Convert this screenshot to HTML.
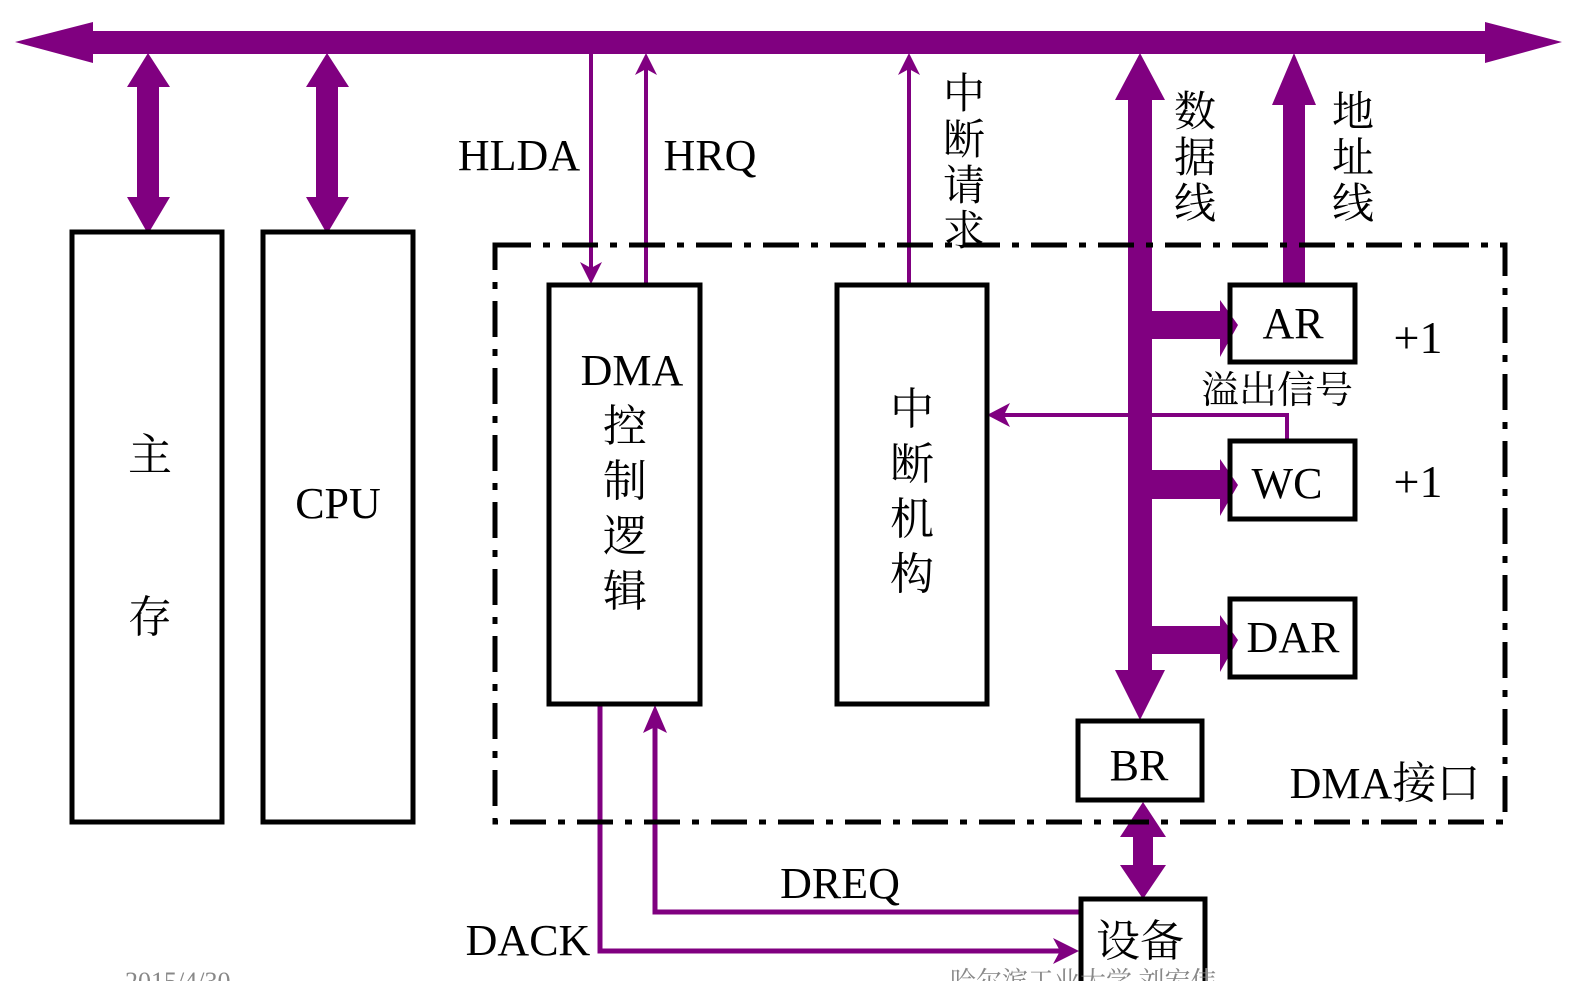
<!DOCTYPE html>
<html><head><meta charset="utf-8"><style>
html,body{margin:0;padding:0;background:#fff;}
svg{display:block;}
text{font-family:"Liberation Serif","Noto Serif CJK SC",serif;fill:#000;}
</style></head><body>
<svg width="1579" height="981" viewBox="0 0 1579 981" xmlns="http://www.w3.org/2000/svg">
<g fill="#800080">
<polygon points="15,42 93,22 93,31 1485,31 1485,22 1562,42 1485,63 1485,54 93,54 93,63"/>
<polygon points="148,53 170,87 159,87 159,197 170,197 148,234 127,197 137,197 137,87 127,87"/>
<polygon points="327,53 349,87 338,87 338,197 349,197 327,234 306,197 316,197 316,87 306,87"/>
<polygon points="1140,53 1165,100 1152,100 1152,670 1165,670 1140,720 1115,670 1128,670 1128,100 1115,100"/>
<polygon points="1150,311 1220,311 1220,300 1238,325 1220,357 1220,339 1150,339"/>
<polygon points="1150,470 1220,470 1220,459 1238,485 1220,516 1220,499 1150,499"/>
<polygon points="1150,626 1220,626 1220,615 1238,640 1220,672 1220,654 1150,654"/>
<polygon points="1294,53 1316,105 1305,105 1305,285 1283,285 1283,105 1272,105"/>
<polygon points="1143,802 1166,837 1153,837 1153,865 1166,865 1143,899 1120,865 1133,865 1133,837 1120,837"/>
</g>
<g stroke="#800080" fill="none" stroke-width="4">
<line x1="591" y1="54" x2="591" y2="275"/>
<line x1="646" y1="285" x2="646" y2="62"/>
<line x1="909" y1="285" x2="909" y2="62"/>
<polyline points="1287,441 1287,415 997,415"/>
<polyline points="600,704 600,951 1068,951" stroke-width="5"/>
<polyline points="1081,912 655,912 655,716" stroke-width="5"/>
</g>
<g fill="#800080">
<polygon points="591,284 580,262 591,268 602,262"/>
<polygon points="646,53 635,75 646,69 657,75"/>
<polygon points="909,53 898,75 909,69 920,75"/>
<polygon points="987,415 1010,403 1004,415 1010,427"/>
<polygon points="1079,951 1053,938 1060,951 1053,964"/>
<polygon points="655,705 643,733 655,727 667,733"/>
</g>
<rect x="495" y="245" width="1010" height="577" fill="none" stroke="#000" stroke-width="5" stroke-dasharray="36,12,7,12"/>
<g fill="none" stroke="#000" stroke-width="5">
<rect x="72" y="232" width="150" height="590"/>
<rect x="263" y="232" width="150" height="590"/>
<rect x="549" y="285" width="151" height="419"/>
<rect x="837" y="285" width="150" height="419"/>
<rect x="1230" y="285" width="125" height="77"/>
<rect x="1230" y="441" width="125" height="78"/>
<rect x="1230" y="599" width="125" height="78"/>
<rect x="1078" y="721" width="124" height="79"/>
<rect x="1081" y="899" width="124" height="90"/>
</g>
<g font-size="44" text-anchor="middle">
<text x="150" y="470">主</text>
<text x="150" y="632">存</text>
<text x="338" y="518">CPU</text>
<text x="632" y="385">DMA</text>
<text x="625" y="441">控</text>
<text x="625" y="496">制</text>
<text x="625" y="551">逻</text>
<text x="625" y="606">辑</text>
<text x="912" y="424">中</text>
<text x="912" y="479">断</text>
<text x="912" y="534">机</text>
<text x="912" y="589">构</text>
<text x="519" y="170">HLDA</text>
<text x="710" y="170">HRQ</text>
<text x="1293" y="338">AR</text>
<text x="1287" y="498">WC</text>
<text x="1293" y="652">DAR</text>
<text x="1139" y="780">BR</text>
<text x="1140" y="956">设备</text>
<text x="840" y="898">DREQ</text>
<text x="528" y="955">DACK</text>
<text x="1385" y="798">DMA接口</text>
<text x="1418" y="353" font-size="46">+1</text>
<text x="1418" y="497" font-size="46">+1</text>
</g>
<g font-size="42" text-anchor="middle">
<text x="964" y="108">中</text>
<text x="964" y="154">断</text>
<text x="964" y="200">请</text>
<text x="964" y="245">求</text>
<text x="1195" y="126">数</text>
<text x="1195" y="172">据</text>
<text x="1195" y="218">线</text>
<text x="1353" y="126">地</text>
<text x="1353" y="172">址</text>
<text x="1353" y="218">线</text>
<text x="1277" y="403" font-size="38">溢出信号</text>
</g>
<g font-size="26">
<text x="125" y="990" style="fill:#888">2015/4/30</text>
<text x="950" y="990" style="fill:#888">哈尔滨工业大学 刘宏伟</text>
</g>
</svg>
</body></html>
